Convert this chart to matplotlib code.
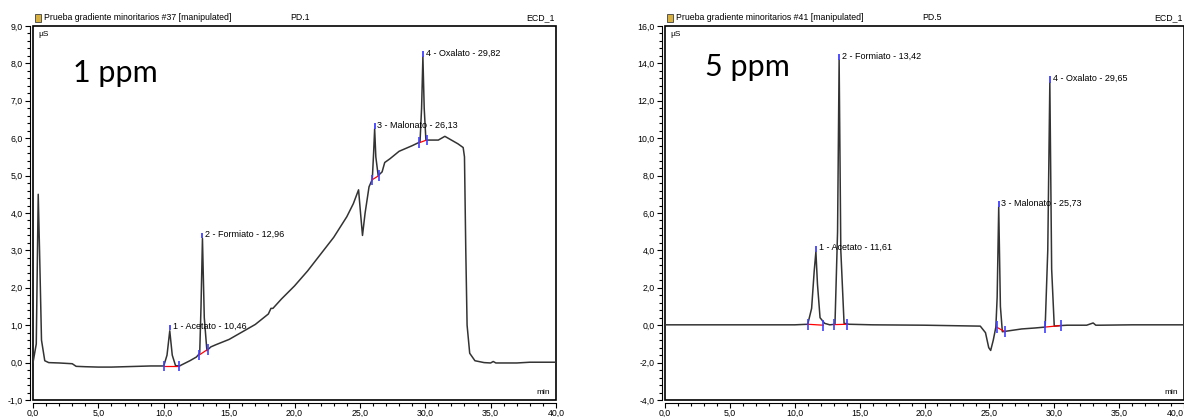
import matplotlib
matplotlib.use("Agg")
import matplotlib.pyplot as plt
from matplotlib.patches import Rectangle
from matplotlib.ticker import MultipleLocator, FuncFormatter

# chromatogram 1 ppm (time in min, signal in uS)
t1 = [0.0, 0.25, 0.4, 0.5, 0.65, 0.9, 1.2, 2.0, 3.0, 3.3, 4.0, 5.0, 6.0, 7.0, 8.0, 9.0, 10.0,
      10.25, 10.46, 10.65, 10.9, 11.2, 11.6, 12.0, 12.5, 12.75, 12.85, 12.96, 13.1, 13.3, 13.6,
      14.0, 15.0, 16.0, 17.0, 18.0, 18.2, 18.35, 19.0, 20.0, 21.0, 22.0, 23.0, 24.0, 24.5, 24.9,
      25.05, 25.2, 25.4, 25.7, 25.95, 26.05, 26.13, 26.22, 26.4, 26.7, 26.9, 27.3, 28.0, 29.0,
      29.6, 29.72, 29.82, 29.92, 30.05, 30.5, 31.0, 31.5, 32.0, 32.5, 32.9, 33.0, 33.1, 33.2,
      33.4, 33.8, 34.5, 35.0, 35.2, 35.4, 36.0, 37.0, 37.5, 38.0, 40.0]
s1 = [0.0, 0.5, 4.5, 3.0, 0.6, 0.05, 0.0, -0.01, -0.03, -0.1, -0.11, -0.12, -0.12, -0.11, -0.1,
      -0.09, -0.09, 0.2, 0.85, 0.2, -0.08, -0.09, -0.02, 0.05, 0.15, 0.25, 1.5, 3.32, 1.2, 0.32,
      0.42, 0.48, 0.62, 0.82, 1.02, 1.3, 1.45, 1.45, 1.7, 2.05, 2.45, 2.9, 3.35, 3.9, 4.25, 4.62,
      4.0, 3.4, 4.0, 4.7, 4.9, 5.6, 6.25, 5.5, 5.0, 5.1, 5.35, 5.45, 5.65, 5.8,
      5.9, 6.8, 8.18, 6.8, 5.95, 5.95, 5.95, 6.05, 5.95, 5.85, 5.75, 5.5, 3.0, 1.0,
      0.25, 0.05, 0.0, -0.01, 0.03, -0.01, -0.01, -0.01, 0.0, 0.01, 0.01]
pk_t1 = [10.46, 12.96, 26.13, 29.82]
pk_h1 = [0.86, 3.32, 6.25, 8.18]
pk_lab1 = ["1 - Acetato - 10,46", "2 - Formiato - 12,96", "3 - Malonato - 26,13", "4 - Oxalato - 29,82"]
pk_start1 = [10.0, 12.7, 25.9, 29.55]
pk_end1 = [11.2, 13.35, 26.45, 30.1]
base_start1 = [-0.09, 0.2, 4.88, 5.88]
base_end1 = [-0.09, 0.35, 5.0, 5.95]

# chromatogram 5 ppm
t2 = [0, 5, 10, 11.0, 11.3, 11.5, 11.63, 11.75, 11.95, 12.3, 12.7, 13.1, 13.3, 13.42, 13.55, 13.8,
      14.2, 16, 20, 24.3, 24.7, 24.95, 25.1, 25.3, 25.5, 25.6, 25.72, 25.85, 26.0, 26.5, 27.5,
      28.5, 29.3, 29.5, 29.66, 29.8, 30.0, 30.5, 31.0, 32.5, 33.0, 33.2, 33.5, 36, 40]
s2 = [0.02, 0.02, 0.02, 0.05, 0.9, 2.9, 3.93, 2.2, 0.4, 0.1, 0.02, 0.05, 5.0, 14.19, 4.0, 0.1,
      0.05, 0.02, 0.0, -0.05, -0.4, -1.2, -1.35, -0.8, -0.1, 1.5, 6.32, 1.0, -0.35, -0.3, -0.2,
      -0.15, -0.1, 4.0, 12.97, 3.0, -0.05, -0.02, 0.0, 0.0, 0.12, 0.0, 0.0, 0.02, 0.02]
pk_t2 = [11.63, 13.42, 25.72, 29.66]
pk_h2 = [3.93, 14.19, 6.32, 12.97]
pk_lab2 = ["1 - Acetato - 11,61", "2 - Formiato - 13,42", "3 - Malonato - 25,73", "4 - Oxalato - 29,65"]
pk_start2 = [11.0, 13.0, 25.55, 29.3]
pk_end2 = [12.2, 14.0, 26.2, 30.5]
base_start2 = [0.05, 0.03, -0.1, -0.1]
base_end2 = [0.0, 0.05, -0.35, -0.02]

x_ticks = [0, 5, 10, 15, 20, 25, 30, 35, 40]

W, H = 1184, 417
fig = plt.figure(figsize=(W / 100, H / 100), dpi=100)
plt.rcParams['font.family'] = 'Liberation Sans'

fmt = FuncFormatter(lambda v, p: f"{v:.1f}".replace('.', ','))


def panel(left, width, t, s, ylim, ymaj, ymin, pk_t, pk_h, labs, st, en, bst, ben, mk,
          title, pd, conc, conc_x, conc_y):
    ax = fig.add_axes([left, 17 / H, width, 374 / H])
    ax.plot(t, s, color='#333333', lw=1.1)
    ax.set_xlim(0, 40)
    ax.set_ylim(*ylim)
    ax.spines['left'].set_position(('outward', 2.5))
    ax.spines['bottom'].set_position(('outward', 2.5))
    ax.spines['top'].set_visible(False)
    ax.spines['right'].set_visible(False)
    ax.add_patch(Rectangle((0, 0), 1, 1, transform=ax.transAxes, fill=False,
                           lw=1.2, ec='black', clip_on=False))
    ax.set_xticks(x_ticks)
    ax.xaxis.set_minor_locator(MultipleLocator(1))
    ax.yaxis.set_major_locator(MultipleLocator(ymaj))
    ax.yaxis.set_minor_locator(MultipleLocator(ymin))
    ax.xaxis.set_major_formatter(fmt)
    ax.yaxis.set_major_formatter(fmt)
    ax.tick_params(which='major', length=3.5, width=0.8, labelsize=6.3, pad=1.5)
    ax.tick_params(axis='x', which='major', pad=0.5)
    ax.tick_params(which='minor', length=2.2, width=0.8)

    # integration baselines and delimiters
    for a, b, ya, yb in zip(st, en, bst, ben):
        ax.plot([a, b], [ya, yb], color='red', lw=0.9)
        ax.vlines([a, b], [ya - mk, yb - mk], [ya + mk, yb + mk], color='#4040ff', lw=1.2)
    for x, h, lab in zip(pk_t, pk_h, labs):
        ax.vlines(x, h, h + mk * 1.1, color='#4040ff', lw=1.3)
        ax.annotate(lab, (x, h + mk * 0.7), xytext=(2, 0), textcoords='offset points',
                    fontsize=6.5, va='center', ha='left')

    ax.text(5 / 523, 1 - 8 / 374, "µS", transform=ax.transAxes, fontsize=6, va='center')
    ax.text(1 - 6 / 523, 8 / 374, "min", transform=ax.transAxes, fontsize=6,
            va='center', ha='right')
    ax.text(conc_x, conc_y, conc, transform=ax.transAxes, fontsize=22,
            family='Lato', va='center')

    # header line above the box
    x0 = left * W
    fig.patches.append(Rectangle((x0 + 2, H - 22), 6, 8, transform=None,
                                 fc='#d8b040', ec='#404040', lw=0.6))
    fig.text((x0 + 11) / W, 1 - 18 / H, title, fontsize=6.3, va='center')
    fig.text((x0 + 257) / W, 1 - 18 / H, pd, fontsize=6.3, va='center')
    fig.text(left + width - 1 / W, 1 - 18 / H, "ECD_1", fontsize=6.3, va='center', ha='right')
    return ax


panel(33 / W, 523 / W, t1, s1, (-1, 9), 1.0, 0.2, pk_t1, pk_h1, pk_lab1,
      pk_start1, pk_end1, base_start1, base_end1, 0.14,
      "Prueba gradiente minoritarios #37 [manipulated]", "PD.1", "1 ppm",
      40 / 523, 1 - 47 / 374)
ax2 = panel(665 / W, 519 / W, t2, s2, (-4, 16), 2.0, 0.4, pk_t2, pk_h2, pk_lab2,
            pk_start2, pk_end2, base_start2, base_end2, 0.3,
            "Prueba gradiente minoritarios #41 [manipulated]", "PD.5", "5 ppm",
            40 / 519, 1 - 41 / 374)

# keep the last tick label of the right panel inside the figure
ax2.xaxis.get_major_ticks()[-1].label1.set_horizontalalignment('right')

fig.savefig("out.png", dpi=100)
